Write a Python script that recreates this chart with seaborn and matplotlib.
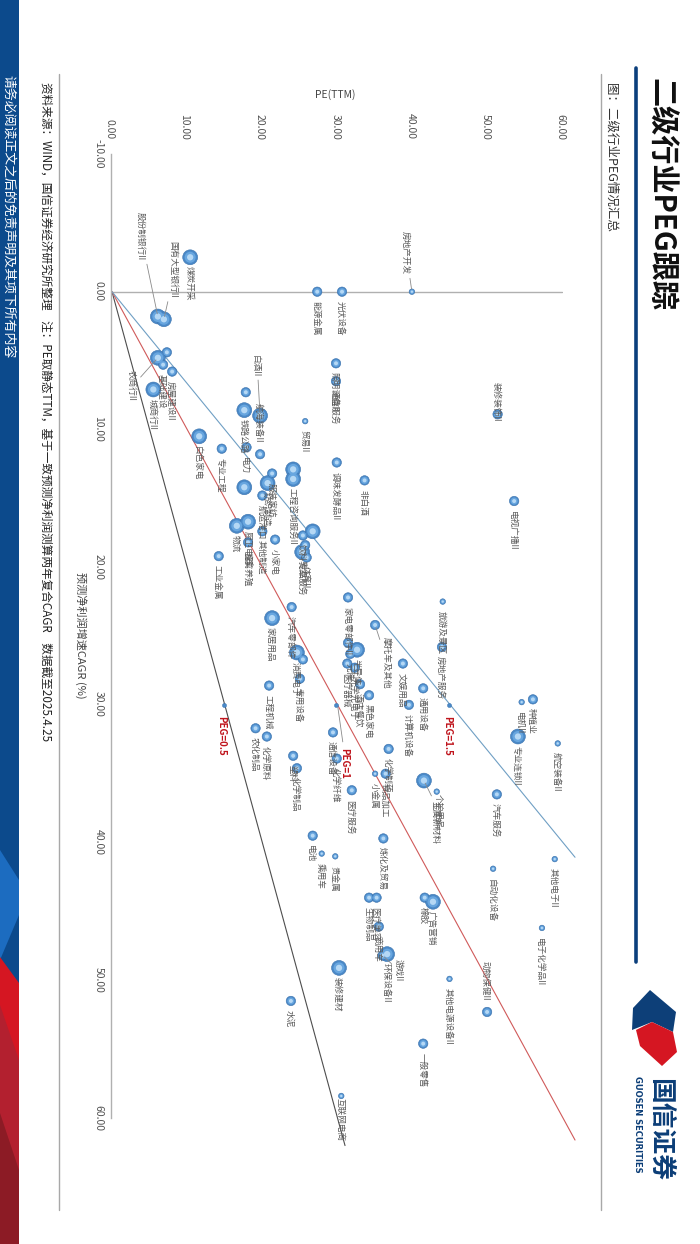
import numpy as np
import pandas as pd
import matplotlib
matplotlib.use("Agg")
import matplotlib.pyplot as plt
from matplotlib.lines import Line2D
from matplotlib.patches import Polygon, Rectangle
import seaborn as sns

# industry, forecast profit CAGR (%), PE(TTM), bubble class (1 small, 2 mid, 3 big)
industries = [
    "煤炭开采", "股份制银行II", "国有大型银行II", "能源金属", "光伏设备", "房地产开发",
    "照明设备II", "", "农商行II", "基础建设", "房屋建设II", "城商行II",
    "白色家电", "专业工程", "工业金属", "", "铁路公路", "白酒II",
    "电力", "航海装备II", "", "航运港口", "服装家纺", "纺织制造",
    "", "工程咨询服务II", "贸易II", "通信服务", "调味发酵品II", "物流",
    "厨卫电器", "其他制造", "畜禽养殖", "小家电", "饮料乳品", "",
    "", "专业服务", "体育II", "家电零部件II", "装修装饰II", "非白酒",
    "电视广播II", "汽车零部件", "家居用品", "消费电子", "", "专用设备",
    "工程机械", "农化制品", "化学原料", "塑料", "化学制品", "通信设备",
    "化学纤维", "医疗服务", "电池", "乘用车", "贵金属", "装修建材",
    "水泥", "互联网电商", "旅游及景区", "房地产服务", "摩托车及其他", "",
    "半导体", "医疗器械", "光学光电子", "酒店餐饮", "黑色家电", "元件",
    "文娱用品", "通用设备", "计算机设备", "化学制药", "小金属", "食品加工",
    "个护用品", "金属新材料", "汽车服务", "电机II", "种植业", "专业连锁II",
    "航空装备II", "其他电子II", "电子化学品II", "自动化设备", "动物保健II", "其他电源设备II",
    "一般零售", "橡胶", "广告营销", "生物制品", "医疗美容", "商用车",
    "环保设备II", "游戏II", "炼化及贸易",
]
cagr = [
    -2.5, 1.8, 2.0, 0.0, 0.0, 0.0,
    5.2, 4.4, 4.8, 5.3, 5.8, 7.1,
    10.5, 11.4, 19.2, 7.3, 8.6, 9.0,
    11.3, 11.8, 14.2, 14.8, 13.2, 13.9,
    12.9, 13.6, 9.4, 6.5, 12.4, 17.0,
    16.7, 17.4, 18.2, 18.0, 17.7, 17.4,
    18.4, 18.9, 19.3, 22.2, 8.9, 13.7,
    15.2, 22.9, 23.7, 26.2, 26.7, 28.1,
    28.6, 31.7, 32.3, 33.7, 34.6, 32.0,
    33.9, 36.2, 39.5, 40.8, 41.0, 49.1,
    51.5, 58.4, 22.5, 25.8, 24.2, 25.5,
    26.0, 27.0, 27.3, 28.5, 29.3, 26.3,
    27.0, 28.8, 30.0, 33.2, 35.0, 35.0,
    35.5, 36.3, 36.5, 29.8, 29.6, 32.3,
    32.8, 41.2, 46.2, 41.9, 52.3, 49.9,
    54.6, 44.0, 44.3, 44.0, 44.0, 46.1,
    48.1, 48.2, 39.7,
]
pe = [
    10.4, 6.1, 6.9, 27.3, 30.6, 39.9,
    29.8, 7.3, 6.1, 6.8, 8.0, 5.5,
    11.6, 14.6, 14.2, 17.8, 17.6, 19.7,
    17.9, 19.7, 17.6, 20.0, 21.3, 20.7,
    24.1, 24.1, 25.7, 29.8, 29.9, 16.6,
    18.1, 20.0, 18.1, 21.7, 25.4, 26.7,
    25.7, 25.3, 25.9, 31.4, 51.3, 33.6,
    53.5, 23.9, 21.3, 24.6, 25.4, 25.0,
    20.9, 19.1, 20.6, 24.1, 24.6, 29.4,
    29.9, 31.9, 26.7, 27.9, 29.7, 30.2,
    23.8, 30.5, 44.0, 43.9, 35.0, 31.4,
    32.6, 31.3, 32.3, 33.0, 34.2, 31.7,
    38.7, 41.4, 39.5, 36.8, 35.0, 36.4,
    41.5, 43.2, 51.2, 54.5, 56.0, 54.0,
    59.3, 58.9, 57.2, 50.7, 49.9, 44.9,
    41.4, 41.6, 42.7, 34.2, 35.2, 35.5,
    36.6, 36.0, 36.1,
]
bubble = [
    3, 3, 3, 2, 2, 1,
    2, 2, 3, 2, 2, 3,
    3, 2, 2, 2, 3, 3,
    2, 2, 3, 2, 2, 3,
    3, 3, 1, 2, 2, 3,
    3, 2, 2, 2, 2, 3,
    2, 3, 2, 2, 2, 2,
    2, 2, 3, 3, 2, 2,
    2, 2, 2, 2, 2, 2,
    2, 2, 2, 1, 1, 3,
    2, 1, 1, 2, 2, 2,
    3, 2, 2, 2, 2, 2,
    2, 2, 2, 2, 1, 2,
    3, 1, 2, 1, 2, 3,
    1, 1, 1, 1, 2, 1,
    2, 2, 3, 2, 2, 2,
    3, 2, 2,
]

peg_values = [0.5, 1.0, 1.5]
peg_labels = ["PEG=0.5", "PEG=1", "PEG=1.5"]
peg_colors = ["#4d4d4d", "#d05a5a", "#6f9fc4"]
peg_anchor_cagr = 30

x_ticks = [-10, 0, 10, 20, 30, 40, 50, 60]
y_ticks = [0, 10, 20, 30, 40, 50, 60]

# labels that sit away from their bubble: (dx pt, dy pt, ha, leader line)
LABEL_POS = {
    "股份制银行II": (-40, -12, "right", True),
    "国有大型银行II": (-15, 8, "right", True),
    "白酒II": (-28, -2, "right", True),
    "房地产开发": (-12, -4, "right", True),
    "农商行II": (9, -18, "left", True),
    "摩托车及其他": (9, 9, "left", True),
    "个护用品": (10, 11, "left", True),
    "游戏II": (3, 12, "left", True),
    "装修装饰II": (-23, 0, "left", False),
    "动物保健II": (-8, 0, "right", False),
    "航海装备II": (-8, 0, "right", False),
    "互联网电商": (2, 0, "left", False),
}

df = pd.DataFrame({"industry": industries, "cagr": cagr, "pe": pe, "bubble": bubble})

sns.set_style("white")
plt.rcParams["font.family"] = ["Noto Sans CJK SC", "DejaVu Sans"]

W, H = 1244, 700
fig = plt.figure(figsize=(W / 100, H / 100), dpi=100)
fig.patch.set_facecolor("white")
ax = fig.add_axes([154 / W, 112 / H, 964 / W, 451 / H])
ax.set_facecolor("none")

# PEG reference lines from the origin
for peg, lab, col in zip(peg_values, peg_labels, peg_colors):
    x_end = min(62, 61.6 / peg)
    ax.plot([0, x_end], [0, x_end * peg], color=col, lw=0.8, zorder=2, clip_on=False)

# axis lines at PE=0 and CAGR=0
ax.axvline(0, ymin=0, ymax=1, color="#b0b0b0", lw=1.0, zorder=1)
for s in ["top", "right", "left"]:
    ax.spines[s].set_visible(False)
ax.spines["bottom"].set_color("#b0b0b0")
ax.spines["bottom"].set_linewidth(1.0)

# spheres: three stacked layers for a shaded look
size_map = {1: 16, 2: 46, 3: 115}
layers = [(1.0, "#4a89c8", "#3a72ad", 0.4), (0.55, "#68a6df", "none", 0), (0.18, "#b5d8f5", "none", 0)]
for k, (scale, fc, ec, lw) in enumerate(layers):
    sns.scatterplot(data=df, x="cagr", y="pe", size="bubble",
                    sizes={key: v * scale for key, v in size_map.items()},
                    color=fc, edgecolor=ec, linewidth=lw, legend=False,
                    ax=ax, zorder=3 + k, clip_on=False)

label_font = dict(fontsize=6.2, color="#5a5a5a")
for name, xv, yv in zip(industries, cagr, pe):
    if not name:
        continue
    dx, dy, ha, leader = LABEL_POS.get(name, (7, 0, "left", False))
    arrow = dict(arrowstyle="-", color="#8a8a8a", lw=0.6, shrinkA=0, shrinkB=2) if leader else None
    ax.annotate(name, (xv, yv), xytext=(dx, dy), textcoords="offset points",
                ha=ha, va="center", arrowprops=arrow, zorder=7, **label_font)

# PEG anchors and labels
for peg, lab in zip(peg_values, peg_labels):
    px, py = peg_anchor_cagr, peg_anchor_cagr * peg
    ax.scatter([px], [py], s=9, color="#4a89c8", edgecolor="#3a72ad", lw=0.3, zorder=6)
    if peg == 1.0:
        ax.annotate(lab, (px, py), xytext=(31, 6), textcoords="offset points",
                    ha="left", va="center", color="#c0161e", fontsize=7, weight="bold",
                    arrowprops=dict(arrowstyle="-", color="#8a8a8a", lw=0.6), zorder=7)
    else:
        ax.annotate(lab, (px, py), xytext=(8, -1), textcoords="offset points",
                    ha="left", va="center", color="#c0161e", fontsize=7, weight="bold", zorder=7)

ax.set_xlim(-10, 60)
ax.set_ylim(0, 60)
ax.set_xticks(x_ticks)
ax.set_yticks(y_ticks)
ax.set_xticklabels([f"{v:.2f}" for v in x_ticks])
ax.set_yticklabels([f"{v:.2f}" for v in y_ticks])
ax.tick_params(axis="x", length=0, pad=5, labelsize=7.5, labelcolor="#555555")
ax.tick_params(axis="y", length=0, pad=10, labelsize=7.5, labelcolor="#555555")
ax.set_xlabel("预测净利润增速CAGR (%)", fontsize=8, color="#444444")
ax.set_ylabel("PE(TTM)", fontsize=7.5, color="#444444")
ax.xaxis.set_label_coords(0.5, -0.053)
ax.yaxis.set_label_coords(-0.056, 0.5)

# page furniture
fig.text(77 / W, 663 / H, "二级行业PEG跟踪", fontsize=21, weight="bold", color="#111111",
         ha="left", va="center")
fig.add_artist(Line2D([68 / W, 962 / W], [636 / H, 636 / H], color="#0b3f7c", lw=2.6))
fig.text(83 / W, 613 / H, "图：二级行业PEG情况汇总", fontsize=9, color="#333333",
         ha="left", va="center")
for yy in (602, 60):
    fig.add_artist(Line2D([74 / W, 1210 / W], [yy / H, yy / H], color="#a8a8a8", lw=1.0))
fig.text(83 / W, 47 / H,
         "资料来源：WIND，国信证券经济研究所整理    注：PE取静态TTM，基于一致预测净利润测算两年复合CAGR    数据截至2025.4.25",
         fontsize=8.4, color="#222222", ha="left", va="center")

# bottom strip
fig.add_artist(Rectangle((0, 0), 1, 19 / H, transform=fig.transFigure, color="#0c4a8c", lw=0))
strip_shapes = [
    ([(850, 0), (960, 0), (915, 19), (880, 19)], "#1c6cc0"),
    ([(957, 0), (1244, 0), (1244, 19), (983, 19)], "#d51622"),
    ([(1005, 0), (1244, 0), (1244, 19), (1060, 19)], "#b3202f"),
    ([(1113, 0), (1244, 0), (1244, 19), (1170, 19)], "#8c1b25"),
]
for pts, col in strip_shapes:
    fig.add_artist(Polygon([(px / W, py / H) for px, py in pts], closed=True,
                           transform=fig.transFigure, color=col, lw=0))
fig.text(75 / W, 10 / H, "请务必阅读正文之后的免责声明及其项下所有内容", fontsize=9.3,
         color="white", ha="left", va="center")

# logo
blue_mark = [(990, 650), (1008, 633), (1030, 632), (1022, 652), (1032, 673), (1012, 676)]
red_mark = [(1022, 652), (1030, 636), (1046, 640), (1066, 662), (1052, 677), (1032, 673)]
for pts, col in ((blue_mark, "#0d3f78"), (red_mark, "#d51622")):
    fig.add_artist(Polygon([(px / W, py / H) for px, py in pts], closed=True,
                           transform=fig.transFigure, color=col, lw=0))
fig.text(1077 / W, 663 / H, "国信证券", fontsize=18.5, weight="bold", color="#0d3f78",
         ha="left", va="center")
fig.text(1077 / W, 638 / H, "GUOSEN SECURITIES", fontsize=6, weight="bold", color="#0d3f78",
         ha="left", va="center", family="DejaVu Sans")

# the page is printed turned a quarter clockwise
fig.canvas.draw()
img = np.asarray(fig.canvas.buffer_rgba())
plt.imsave("out.png", np.rot90(img, k=-1))
plt.close(fig)
